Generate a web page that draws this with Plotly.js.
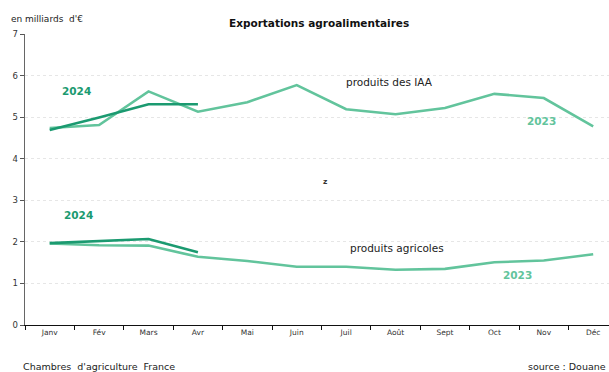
<!DOCTYPE html>
<html><head><meta charset="utf-8">
<script src="https://cdn.plot.ly/plotly-3.0.1.min.js"></script>
<style>html,body{margin:0;padding:0;background:#fff;}#c{width:609px;height:372px;}</style>
</head><body><div id="c"></div>
<script>
const months = ["Janv","Fév","Mars","Avr","Mai","Juin","Juil","Août","Sept","Oct","Nov","Déc"];
const iaa2023 = [4.74,4.81,5.62,5.13,5.36,5.77,5.19,5.07,5.22,5.56,5.46,4.78];
const iaa2024 = [4.69,4.99,5.31,5.31];
const agri2023 = [1.96,1.92,1.91,1.64,1.54,1.40,1.40,1.33,1.35,1.51,1.55,1.70];
const agri2024 = [1.97,2.02,2.07,1.75];
const yTicks = [0,1,2,3,4,5,6,7];

const light = "#62c49c", dark = "#1b9a70";
const F = "DejaVu Sans, Verdana, sans-serif";
function line(y, c){return {x: months.slice(0,y.length), y: y, type:"scatter", mode:"lines", line:{color:c, width:2.6}, hoverinfo:"skip", showlegend:false};}
const data = [line(iaa2023, light), line(agri2023, light), line(iaa2024, dark), line(agri2024, dark)];

const layout = {
  width:609, height:372, margin:{l:25, r:0, t:34, b:47},
  paper_bgcolor:"#fff", plot_bgcolor:"#fff",
  font:{family:F, size:9, color:"#333"},
  xaxis:{type:"category", categoryorder:"array", categoryarray:months, range:[-0.5,11.32],
    showline:true, linecolor:"#111", linewidth:1.3, ticks:"outside", tickson:"boundaries", ticklen:4, tickcolor:"#111",
    showgrid:false, zeroline:false, tickfont:{size:7.5, color:"#333", family:F}, fixedrange:true},
  yaxis:{range:[0,7], tickvals:yTicks, ticks:"outside", ticklen:4, tickcolor:"#555",
    showline:true, linecolor:"#666", linewidth:1.5, showgrid:true, gridcolor:"#e6e6e6", griddash:"dot", gridwidth:1,
    zeroline:false, tickfont:{size:8.5, color:"#333", family:F}, fixedrange:true},
  title:{text:"<b>Exportations agroalimentaires</b>", x:0.524, xanchor:"center", y:0.938, yanchor:"middle", font:{size:10.5, color:"#111", family:F}},
  annotations:[
    {text:"en milliards  d'€", xref:"paper", yref:"paper", x:-0.028, y:1.052, xanchor:"left", yanchor:"middle", showarrow:false, font:{size:9, color:"#222"}},
    {text:"<b>2024</b>", xref:"x", yref:"y", x:0.55, y:5.63, showarrow:false, font:{size:10.5, color:dark}},
    {text:"<b>2024</b>", xref:"x", yref:"y", x:0.59, y:2.65, showarrow:false, font:{size:10.5, color:dark}},
    {text:"<b>2023</b>", xref:"x", yref:"y", x:9.95, y:4.9, showarrow:false, font:{size:10.5, color:light}},
    {text:"<b>2023</b>", xref:"x", yref:"y", x:9.47, y:1.2, showarrow:false, font:{size:10.5, color:light}},
    {text:"produits des IAA", xref:"x", yref:"y", x:6.88, y:5.85, showarrow:false, font:{size:10.5, color:"#222"}},
    {text:"produits agricoles", xref:"x", yref:"y", x:7.02, y:1.85, showarrow:false, font:{size:10.5, color:"#222"}},
    {text:"<b>z</b>", xref:"x", yref:"y", x:5.57, y:3.45, showarrow:false, font:{size:7.5, color:"#333"}},
    {text:"Chambres  d'agriculture  France", xref:"paper", yref:"paper", x:-0.006, y:-0.143, xanchor:"left", yanchor:"middle", showarrow:false, font:{size:9.5, color:"#222"}},
    {text:"source : Douane", xref:"paper", yref:"paper", x:0.998, y:-0.143, xanchor:"right", yanchor:"middle", showarrow:false, font:{size:9.5, color:"#222"}}
  ]
};
Plotly.newPlot("c", data, layout, {displayModeBar:false, staticPlot:true});
</script></body></html>
